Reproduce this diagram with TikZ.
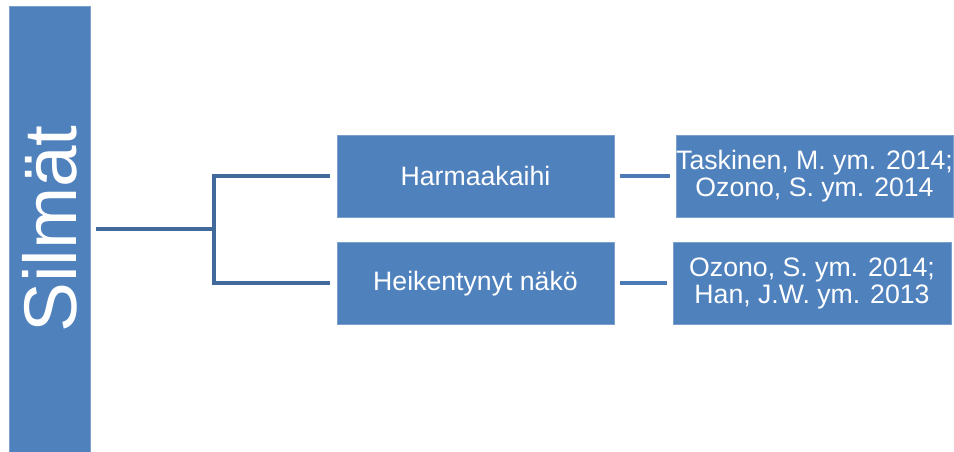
\documentclass[tikz,border=0pt]{standalone}
\usepackage{fontspec}
\setmainfont{Liberation Sans}
\usepackage{tikz}
\usetikzlibrary{positioning}
\definecolor{boxblue}{HTML}{4F81BD}
\definecolor{stemblue}{HTML}{41699B}
\definecolor{linkblue}{HTML}{4A7BB7}

\begin{document}
\begin{tikzpicture}[x=0.75pt, y=-0.75pt,
			box/.style={rectangle, fill=boxblue, draw=boxblue!75!white, line width=0.4pt,
				text=white, inner sep=0pt, align=center,
				minimum width=207.75pt, minimum height=61.5pt,
				font=\fontsize{20}{20.25}\selectfont},
			stem/.style={draw=stemblue, line width=3pt},
			link/.style={draw=linkblue, line width=3pt, shorten <=4.5pt, shorten >=4.5pt}]

			\useasboundingbox (0,0) rectangle (954,452);

			\node[box, rotate=90, minimum width=334.5pt, minimum height=60.4pt,
				font=\fontsize{56}{56}\selectfont] (silmat) at (49.75,229) {Silmät};

			\node[box] (harmaa) at (475.5,176) {Harmaakaihi};
			\node[box] (heikko) at (475.5,283.5) {Heikentynyt näkö};
			\node[box] (ref1) at (814.5,176) {Taskinen, M. ym. 2014;\\Ozono, S. ym. 2014};
			\node[box, minimum width=208.5pt] (ref2) at (812,283.5) {Ozono, S. ym. 2014;\\Han, J.W. ym. 2013};

			\coordinate (split) at (214,229);

			\draw[stem, shorten <=4.5pt] (silmat.south) -- (split);
			\draw[stem, shorten <=5.25pt, shorten >=5.25pt] (harmaa.west) -| (split) |- (heikko.west);
			\draw[link] (harmaa) -- (ref1);
			\draw[link] (heikko) -- (ref2);
		\end{tikzpicture}
\end{document}
